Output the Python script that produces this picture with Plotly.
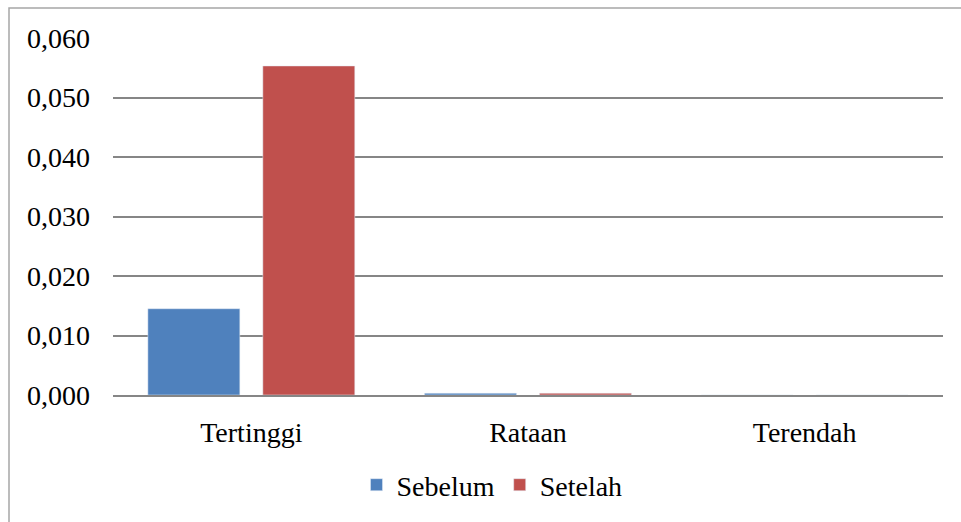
import plotly.graph_objects as go

categories = ["Tertinggi", "Rataan", "Terendah"]
sebelum = [0.0145, 0.0003, 0.0]
setelah = [0.0553, 0.0003, 0.0]
tick_vals = [0, 0.01, 0.02, 0.03, 0.04, 0.05, 0.06]
tick_text = ["0,000", "0,010", "0,020", "0,030", "0,040", "0,050", "0,060"]

FONT = "Palatino Linotype, Book Antiqua, Palatino, Liberation Serif, serif"
FS = 28

fig = go.Figure()
fig.add_trace(go.Bar(name="Sebelum", x=categories, y=sebelum, marker_color="#4f81bd"))
fig.add_trace(go.Bar(name="Setelah", x=categories, y=setelah, marker_color="#c0504d"))

W, H = 961, 522
L, R, T, B = 113, 18, 38, 127
pw, ph = W - L - R, H - T - B

fig.update_layout(
    width=W, height=H,
    margin=dict(l=L, r=R, t=T, b=B, autoexpand=False),
    paper_bgcolor="white", plot_bgcolor="white",
    barmode="group", bargap=0.169, bargroupgap=0.2,
    font=dict(family=FONT, size=FS, color="#000000"),
    showlegend=True,
    legend=dict(orientation="h", x=(492 - L) / pw, xanchor="center",
                y=(395 - 485) / ph, yanchor="middle",
                font=dict(family=FONT, size=FS), itemwidth=30, traceorder="normal"),
    xaxis=dict(showgrid=False, showline=True, linecolor="#868686", linewidth=2,
               ticks="", ticklabelstandoff=11, automargin=False,
               tickfont=dict(family=FONT, size=FS)),
    yaxis=dict(range=[0, 0.06], tickvals=tick_vals, ticktext=tick_text,
               showgrid=True, gridcolor="#868686", gridwidth=2, zeroline=False,
               showline=False, ticks="", ticklabelstandoff=22, automargin=False,
               tickfont=dict(family=FONT, size=FS)),
)

# outer chart border (left and top visible)
fig.add_shape(type="rect", xref="paper", yref="paper",
              x0=(9 - L) / pw, x1=(W + 20 - L) / pw,
              y0=-(H + 20 - (H - B)) / ph, y1=1 + (T - 8) / ph,
              line=dict(color="#a6a6a6", width=1.5), layer="below")

fig.write_html("out.html")
